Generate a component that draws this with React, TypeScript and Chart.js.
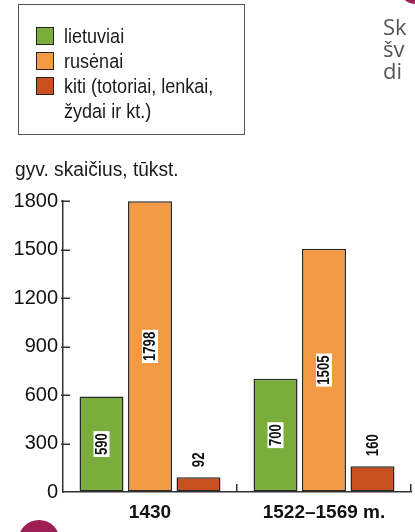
import React, { useEffect, useRef } from 'react';
import { Chart, registerables } from 'chart.js';

Chart.register(...registerables);

const categories = ['1430', '1522–1569 m.'];
const seriesNames = ['lietuviai', 'rusėnai', 'kiti (totoriai, lenkai, žydai ir kt.)'];
const legendLines = [['lietuviai'], ['rusėnai'], ['kiti (totoriai, lenkai,', 'žydai ir kt.)']];
const lietuviai = [590, 700];
const rusenai = [1798, 1505];
const kiti = [92, 160];
const yTicks = [0, 300, 600, 900, 1200, 1500, 1800];
const yTitle = 'gyv. skaičius, tūkst.';
const sideText = ['Sk', 'šv', 'di'];

const colors = ['#7aad3b', '#f29a44', '#c9501f'];
const SANS = '"Liberation Sans", Arial, sans-serif';

const valueLabels = {
  id: 'valueLabels',
  afterDatasetsDraw(chart: any) {
    const ctx = chart.ctx;
    const sx = 0.82;
    chart.data.datasets.forEach((ds: any, di: number) => {
      const meta = chart.getDatasetMeta(di);
      meta.data.forEach((bar: any, i: number) => {
        const text = String(ds.data[i]);
        ctx.save();
        ctx.font = 'bold 16px ' + SANS;
        const w = ctx.measureText(text).width * sx;
        const inside = di < 2;
        const cy = inside ? (bar.y + bar.base) / 2 : bar.y - 10 - w / 2;
        ctx.translate(bar.x, cy);
        ctx.rotate(-Math.PI / 2);
        if (inside) {
          ctx.fillStyle = '#ffffff';
          ctx.fillRect(-w / 2 - 2, -8, w + 4, 16);
        }
        ctx.scale(sx, 1);
        ctx.fillStyle = '#111111';
        ctx.textAlign = 'center';
        ctx.textBaseline = 'middle';
        ctx.fillText(text, 0, 1);
        ctx.restore();
      });
    });
  },
};

const axisMarks = {
  id: 'axisMarks',
  afterDraw(chart: any) {
    const { ctx, chartArea } = chart;
    const x = chart.scales.x;
    const y = chart.scales.y;
    ctx.save();
    ctx.strokeStyle = '#333333';
    ctx.lineWidth = 1.5;
    yTicks.forEach((v) => {
      if (v === 0) return;
      const py = Math.round(y.getPixelForValue(v)) + 0.25;
      ctx.beginPath();
      ctx.moveTo(chartArea.left - 2, py);
      ctx.lineTo(chartArea.left + 7, py);
      ctx.stroke();
    });
    const catW = (x.right - x.left) / categories.length;
    categories.forEach((_, i) => {
      const px = Math.round(x.getPixelForValue(i) + catW / 2) - 0.25;
      ctx.beginPath();
      ctx.moveTo(px, chartArea.bottom);
      ctx.lineTo(px, chartArea.bottom - 8);
      ctx.stroke();
    });
    ctx.restore();
  },
};

function BarChart() {
  const ref = useRef<HTMLCanvasElement | null>(null);
  useEffect(() => {
    if (!ref.current) return;
    const mk = (label: string, data: number[], c: string) => ({
      label,
      data,
      backgroundColor: c,
      borderColor: '#2a2a2a',
      borderWidth: 1.5,
      borderSkipped: false,
      categoryPercentage: 0.836,
      barPercentage: 0.907,
    });
    const chart = new Chart(ref.current, {
      type: 'bar',
      data: {
        labels: categories,
        datasets: [
          mk(seriesNames[0], lietuviai, colors[0]),
          mk(seriesNames[1], rusenai, colors[1]),
          mk(seriesNames[2], kiti, colors[2]),
        ],
      },
      options: {
        responsive: false,
        animation: false,
        devicePixelRatio: 1,
        layout: { padding: { top: 201, right: 4, bottom: 0, left: 0 } },
        plugins: { legend: { display: false }, tooltip: { enabled: false }, title: { display: false } },
        scales: {
          x: {
            grid: { display: true, drawOnChartArea: false, drawTicks: false },
            border: { display: true, color: '#333333', width: 1.5 },
            ticks: {
              color: '#111111',
              font: { family: SANS, size: 19, weight: 'bold' },
              padding: 9,
              maxRotation: 0,
              autoSkip: false,
            },
            afterFit: (s: any) => { s.height = 40; },
          },
          y: {
            min: 0,
            max: 1800,
            grid: { display: true, drawOnChartArea: false, drawTicks: false },
            border: { display: true, color: '#333333', width: 1.5 },
            ticks: {
              color: '#111111',
              font: { family: SANS, size: 20 },
              padding: 5,
              callback: (v: any) => String(v),
            },
            afterBuildTicks: (s: any) => { s.ticks = yTicks.map((v) => ({ value: v })); },
            afterFit: (s: any) => { s.width = 63; },
          },
        },
      },
      plugins: [valueLabels, axisMarks],
    } as any);
    return () => chart.destroy();
  }, []);
  return <canvas ref={ref} width={415} height={532} style={{ position: 'absolute', left: 0, top: 0, width: 415, height: 532 }} />;
}

const narrowText = (scale: number): React.CSSProperties => ({
  position: 'absolute',
  fontFamily: SANS,
  lineHeight: 1,
  color: '#1a1a1a',
  whiteSpace: 'nowrap',
  transform: `scaleX(${scale})`,
  transformOrigin: 'left top',
});

export default function App() {
  const rowTops = [27, 52, 77];
  return (
    <div style={{ position: 'absolute', left: 0, top: 0, width: 415, height: 532, overflow: 'hidden', background: '#ffffff' }}>
      <BarChart />
      <div style={{ position: 'absolute', left: 18, top: 4, width: 225, height: 129, border: '1.5px solid #555555' }} />
      {legendLines.map((lines, i) => (
        <React.Fragment key={i}>
          <div style={{ position: 'absolute', left: 36, top: rowTops[i], width: 16, height: 16, background: colors[i], border: '1.5px solid #222222' }} />
          {lines.map((t, j) => (
            <div key={j} style={{ ...narrowText(0.88), left: 64, top: rowTops[i] - 1 + j * 25, fontSize: 20.5 }}>{t}</div>
          ))}
        </React.Fragment>
      ))}
      <div style={{ ...narrowText(0.935), left: 15, top: 159, fontSize: 20.5 }}>{yTitle}</div>
      {sideText.map((t, i) => (
        <div key={i} style={{ position: 'absolute', left: 383, top: 14 + i * 22, fontFamily: '"Open Sans", "Noto Sans", sans-serif', fontSize: 22, lineHeight: 1.1, color: '#555555', whiteSpace: 'nowrap' }}>{t}</div>
      ))}
      <div style={{ position: 'absolute', left: 398, top: -32, width: 36, height: 36, borderRadius: '50%', background: '#9e1f55' }} />
      <div style={{ position: 'absolute', left: 18, top: 520, width: 42, height: 42, borderRadius: '50%', background: '#9e1f55' }} />
    </div>
  );
}
